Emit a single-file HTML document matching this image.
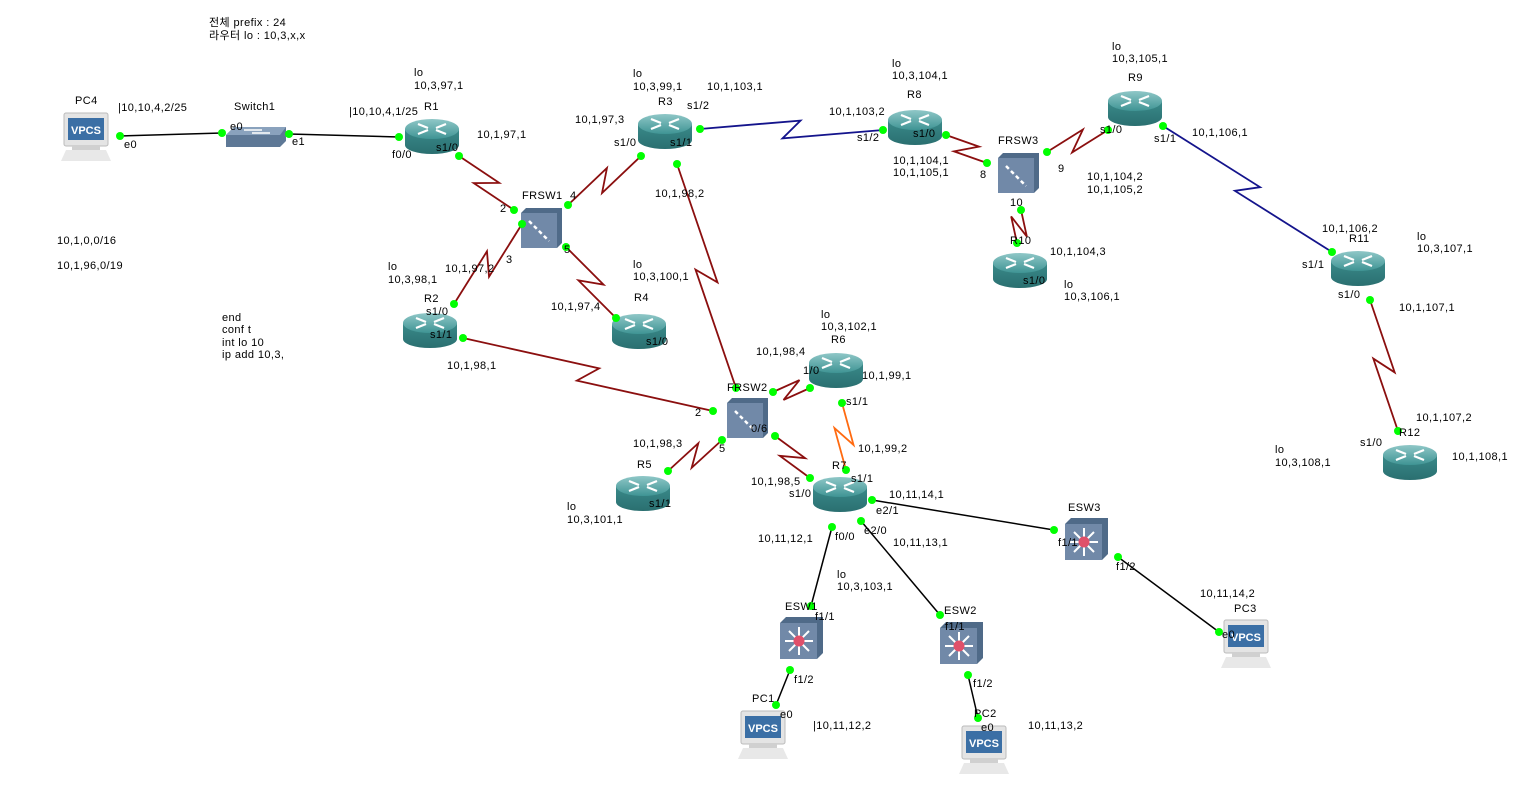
<!DOCTYPE html>
<html><head><meta charset="utf-8"><style>
html,body{margin:0;padding:0;background:#fff;}
svg{display:block}
text{font-family:"Liberation Sans","Noto Sans CJK KR",sans-serif;font-size:11px;fill:#000;letter-spacing:0.4px}
</style></head><body>
<svg id="s" width="1533" height="809" viewBox="0 0 1533 809" xmlns="http://www.w3.org/2000/svg">
<defs>
<linearGradient id="rt" x1="0" y1="0" x2="0" y2="1"><stop offset="0" stop-color="#8fc7c7"/><stop offset="1" stop-color="#3f9494"/></linearGradient>
<linearGradient id="rb" x1="0" y1="0" x2="0" y2="1"><stop offset="0" stop-color="#3a8a8a"/><stop offset="1" stop-color="#2a6f70"/></linearGradient>
<symbol id="router" viewBox="-28 -19 56 38" overflow="visible">
<path d="M-27,-7 L-27,9 A27,9 0 0 0 27,9 L27,-7 Z" fill="url(#rb)"/>
<ellipse cx="0" cy="-7" rx="27" ry="10" fill="url(#rt)"/>
<g stroke="#fff" stroke-width="2.2" fill="none">
<path d="M-14,-12 L-4,-8 M4,-6 L14,-2 M14,-12 L4,-8 M-4,-6 L-14,-2"/>
</g>
</symbol>
<symbol id="frsw" viewBox="-22 -22 44 44" overflow="visible">
<path d="M-20,-15 L-15,-20 L21,-20 L21,15 L16,20 Z" fill="#4f6a88"/>
<rect x="-20" y="-15" width="36" height="35" fill="#7189a8"/>
<path d="M-12,-7 L8,13" stroke="#fff" stroke-width="2.5" stroke-dasharray="4,3"/>
</symbol>
<symbol id="esw" viewBox="-22 -22 44 44" overflow="visible">
<path d="M-21,-15 L-15,-21 L22,-21 L22,15 L16,21 Z" fill="#4f6a88"/>
<rect x="-21" y="-15" width="37" height="36" fill="#7189a8"/>
<g stroke="#fff" stroke-width="2"><path d="M-16,3 L12,3 M-2,-11 L-2,17 M-12,-7 L8,13 M8,-7 L-12,13"/></g>
<circle cx="-2" cy="3" r="5.5" fill="#e0506a"/>
</symbol>
<symbol id="vpcs" viewBox="-26 -25 52 50" overflow="visible">
<rect x="-22" y="-24" width="44" height="33" rx="2" fill="#e4e4e4" stroke="#bbb"/>
<rect x="-18" y="-19" width="36" height="22" fill="#3b6fa5"/>
<text x="-15" y="-3" style="font-size:11px;fill:#fff;font-weight:bold;letter-spacing:0">VPCS</text>
<rect x="-14" y="9" width="28" height="4" fill="#d0d0d0"/>
<path d="M-20,13 L20,13 L25,24 L-25,24 Z" fill="#e8e8e8"/>
</symbol>
<symbol id="sw" viewBox="-30 -11 60 22" overflow="visible">
<path d="M-30,-2 L-22,-10 L30,-10 L30,4 L24,10 L-30,10 Z" fill="#5e7896"/>
<path d="M-30,-2 L-22,-10 L30,-10 L24,-2 Z" fill="#8aa2bd"/>
<g stroke="#fff" stroke-width="1.5"><path d="M-12,-7 L6,-7 M-4,-4 L14,-4"/></g>
</symbol>
</defs>
<g id="links"></g>
<g id="icons">
<use href="#vpcs" x="-26" y="-25" width="52" height="50" transform="translate(86,137)"/>
<use href="#sw" x="-30" y="-11" width="60" height="22" transform="translate(256,137)"/>
<use href="#router" x="-28" y="-19" width="56" height="38" transform="translate(432,136)"/>
<use href="#router" x="-28" y="-19" width="56" height="38" transform="translate(665,131)"/>
<use href="#router" x="-28" y="-19" width="56" height="38" transform="translate(915,127)"/>
<use href="#router" x="-28" y="-19" width="56" height="38" transform="translate(1135,108)"/>
<use href="#frsw" x="-22" y="-22" width="44" height="44" transform="translate(541,228)"/>
<use href="#frsw" x="-22" y="-22" width="44" height="44" transform="translate(1018,173)"/>
<use href="#router" x="-28" y="-19" width="56" height="38" transform="translate(1020,270)"/>
<use href="#router" x="-28" y="-19" width="56" height="38" transform="translate(1358,268)"/>
<use href="#router" x="-28" y="-19" width="56" height="38" transform="translate(430,330)"/>
<use href="#router" x="-28" y="-19" width="56" height="38" transform="translate(639,331)"/>
<use href="#router" x="-28" y="-19" width="56" height="38" transform="translate(836,370)"/>
<use href="#frsw" x="-22" y="-22" width="44" height="44" transform="translate(747,418)"/>
<use href="#router" x="-28" y="-19" width="56" height="38" transform="translate(643,493)"/>
<use href="#router" x="-28" y="-19" width="56" height="38" transform="translate(840,494)"/>
<use href="#router" x="-28" y="-19" width="56" height="38" transform="translate(1410,462)"/>
<use href="#esw" x="-22" y="-22" width="44" height="44" transform="translate(1086,539)"/>
<use href="#esw" x="-22" y="-22" width="44" height="44" transform="translate(801,638)"/>
<use href="#esw" x="-22" y="-22" width="44" height="44" transform="translate(961,643)"/>
<use href="#vpcs" x="-26" y="-25" width="52" height="50" transform="translate(1246,644)"/>
<use href="#vpcs" x="-26" y="-25" width="52" height="50" transform="translate(763,735)"/>
<use href="#vpcs" x="-26" y="-25" width="52" height="50" transform="translate(984,750)"/>
</g>
<g id="dots"></g>
<g id="labels">
<text x="209" y="26">전체 prefix : 24</text>
<text x="209" y="39">라우터 lo : 10,3,x,x</text>
<text x="75" y="104">PC4</text><text x="118" y="111">|10,10,4,2/25</text><text x="234" y="110">Switch1</text>
<text x="230" y="130">e0</text><text x="292" y="145">e1</text><text x="124" y="148">e0</text>
<text x="414" y="76">lo</text><text x="414" y="89">10,3,97,1</text><text x="349" y="115">|10,10,4,1/25</text><text x="424" y="110">R1</text>
<text x="392" y="158">f0/0</text><text x="436" y="151">s1/0</text><text x="477" y="138">10,1,97,1</text>
<text x="633" y="77">lo</text><text x="633" y="90">10,3,99,1</text><text x="707" y="90">10,1,103,1</text><text x="658" y="105">R3</text>
<text x="687" y="109">s1/2</text><text x="575" y="123">10,1,97,3</text><text x="614" y="146">s1/0</text><text x="670" y="146">s1/1</text><text x="655" y="197">10,1,98,2</text>
<text x="522" y="199">FRSW1</text><text x="570" y="199">4</text><text x="500" y="212">2</text><text x="506" y="263">3</text><text x="564" y="253">5</text>
<text x="57" y="244">10,1,0,0/16</text><text x="57" y="269">10,1,96,0/19</text>
<text x="388" y="270">lo</text><text x="388" y="283">10,3,98,1</text><text x="445" y="272">10,1,97,2</text><text x="424" y="302">R2</text>
<text x="426" y="315">s1/0</text><text x="430" y="338">s1/1</text><text x="447" y="369">10,1,98,1</text>
<text x="222" y="321">end</text><text x="222" y="333">conf t</text><text x="222" y="346">int lo 10</text><text x="222" y="358">ip add 10,3,</text>
<text x="633" y="268">lo</text><text x="633" y="280">10,3,100,1</text><text x="634" y="301">R4</text><text x="551" y="310">10,1,97,4</text><text x="646" y="345">s1/0</text>
<text x="821" y="318">lo</text><text x="821" y="330">10,3,102,1</text><text x="831" y="343">R6</text><text x="756" y="355">10,1,98,4</text>
<text x="803" y="374">1/0</text><text x="862" y="379">10,1,99,1</text><text x="846" y="405">s1/1</text>
<text x="727" y="391">FRSW2</text><text x="695" y="416">2</text><text x="751" y="432">0/6</text><text x="719" y="452">5</text><text x="858" y="452">10,1,99,2</text>
<text x="633" y="447">10,1,98,3</text><text x="637" y="468">R5</text><text x="649" y="507">s1/1</text><text x="567" y="510">lo</text><text x="567" y="523">10,3,101,1</text>
<text x="832" y="469">R7</text><text x="851" y="482">s1/1</text><text x="751" y="485">10,1,98,5</text><text x="789" y="497">s1/0</text>
<text x="876" y="514">e2/1</text><text x="889" y="498">10,11,14,1</text><text x="864" y="534">e2/0</text><text x="835" y="540">f0/0</text>
<text x="758" y="542">10,11,12,1</text><text x="893" y="546">10,11,13,1</text>
<text x="837" y="578">lo</text><text x="837" y="590">10,3,103,1</text><text x="785" y="610">ESW1</text><text x="815" y="620">f1/1</text>
<text x="794" y="683">f1/2</text><text x="752" y="702">PC1</text><text x="780" y="718">e0</text><text x="813" y="729">|10,11,12,2</text>
<text x="944" y="614">ESW2</text><text x="945" y="630">f1/1</text><text x="973" y="687">f1/2</text><text x="974" y="717">PC2</text><text x="981" y="731">e0</text><text x="1028" y="729">10,11,13,2</text>
<text x="1068" y="511">ESW3</text><text x="1058" y="546">f1/1</text><text x="1116" y="570">f1/2</text><text x="1200" y="597">10,11,14,2</text><text x="1234" y="612">PC3</text><text x="1222" y="638">e0</text>
<text x="892" y="67">lo</text><text x="892" y="79">10,3,104,1</text><text x="907" y="98">R8</text><text x="829" y="115">10,1,103,2</text>
<text x="913" y="137">s1/0</text><text x="857" y="141">s1/2</text><text x="893" y="164">10,1,104,1</text><text x="893" y="176">10,1,105,1</text>
<text x="998" y="144">FRSW3</text><text x="980" y="178">8</text><text x="1058" y="172">9</text><text x="1010" y="206">10</text>
<text x="1087" y="180">10,1,104,2</text><text x="1087" y="193">10,1,105,2</text>
<text x="1010" y="244">R10</text><text x="1050" y="255">10,1,104,3</text><text x="1023" y="284">s1/0</text><text x="1064" y="288">lo</text><text x="1064" y="300">10,3,106,1</text>
<text x="1112" y="50">lo</text><text x="1112" y="62">10,3,105,1</text><text x="1128" y="81">R9</text><text x="1100" y="133">s1/0</text><text x="1154" y="142">s1/1</text><text x="1192" y="136">10,1,106,1</text>
<text x="1322" y="232">10,1,106,2</text><text x="1417" y="240">lo</text><text x="1417" y="252">10,3,107,1</text><text x="1349" y="242">R11</text>
<text x="1302" y="268">s1/1</text><text x="1338" y="298">s1/0</text><text x="1399" y="311">10,1,107,1</text>
<text x="1416" y="421">10,1,107,2</text><text x="1399" y="436">R12</text><text x="1360" y="446">s1/0</text><text x="1275" y="453">lo</text><text x="1275" y="466">10,3,108,1</text><text x="1452" y="460">10,1,108,1</text>
</g>
<script>
(function(){
var NS="http://www.w3.org/2000/svg";
var L=document.getElementById("links"),D=document.getElementById("dots");
function el(t,a,p){var e=document.createElementNS(NS,t);for(var k in a)e.setAttribute(k,a[k]);p.appendChild(e);}
// [x1,y1,x2,y2,type, lx1,ly1,lx2,ly2 (line extension ends)]
var eth=[[120,136,222,133],[289,134,399,137],[832,527,811,606],[790,670,776,705],[861,521,940,615],[968,675,978,718],[872,500,1054,530],[1118,557,1219,632]];
var blue=[[700,129,883,130],[1163,126,1332,252]];
var red=[[459,156,514,210],[641,156,568,205],[677,164,736,388],[522,224,454,304],[566,247,616,318],[463,338,713,411],[773,392,810,388],[775,436,810,478],[722,440,668,471],[946,135,987,163],[1047,152,1108,130],[1021,210,1017,243],[1370,300,1398,431]];
var orange=[[842,403,846,470]];
eth.forEach(function(l){el("line",{x1:l[0],y1:l[1],x2:l[2],y2:l[3],stroke:"#000","stroke-width":1.5},L);});
function zig(l,c){var x1=l[0],y1=l[1],x2=l[2],y2=l[3];var dx=x2-x1,dy=y2-y1,len=Math.hypot(dx,dy);var ux=dx/len,uy=dy/len,nx=uy,ny=-ux;var mx=(x1+x2)/2,my=(y1+y2)/2;var h=9;
var a=[mx+ux*h+nx*h,my+uy*h+ny*h],b=[mx-ux*h-nx*h,my-uy*h-ny*h];
el("polyline",{points:x1+","+y1+" "+a[0]+","+a[1]+" "+b[0]+","+b[1]+" "+x2+","+y2,fill:"none",stroke:c,"stroke-width":1.8},L);}
blue.forEach(function(l){zig(l,"#14148c");});
red.forEach(function(l){zig(l,"#8b0f0f");});
orange.forEach(function(l){zig(l,"#ff6a10");});
var all=eth.concat(blue,red,orange);
all.forEach(function(l){el("circle",{cx:l[0],cy:l[1],r:4,fill:"#0f0"},D);el("circle",{cx:l[2],cy:l[3],r:4,fill:"#0f0"},D);});
})();
</script>
</svg>
</body></html>
